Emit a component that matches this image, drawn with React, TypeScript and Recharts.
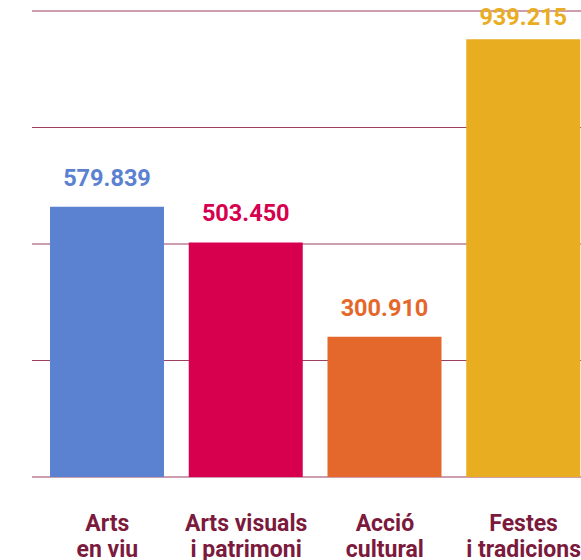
import React from 'react';
import { BarChart, Bar, XAxis, YAxis, CartesianGrid, Cell, LabelList } from 'recharts';

// Pressupost per àmbit (euros)
const categories = [
    ['Arts', 'en viu'],
    ['Arts visuals', 'i patrimoni'],
    ['Acció', 'cultural'],
    ['Festes', 'i tradicions'],
];
const values = [579839, 503450, 300910, 939215];
const colors = ['#5b81d1', '#d7004f', '#e4682c', '#e9ad22'];
const yTicks = [0, 250000, 500000, 750000, 1000000];

const data = categories.map((c, i) => ({ name: c.join(' '), lines: c, value: values[i] }));

const fmt = (v: number) => String(v).replace(/\B(?=(\d{3})+(?!\d))/g, '.');

const FONT = 'Roboto, "Noto Sans", sans-serif';
const LABEL_COLOR = '#7b1a3d';

function CategoryTick({ x, y, payload }: any) {
    const item = data.find((d) => d.name === payload.value);
    const lines = item ? item.lines : [payload.value];
    return (
        <text x={x} y={y} textAnchor="middle" fill={LABEL_COLOR} fontFamily={FONT} fontSize={23} fontWeight={700}>
            {lines.map((l, i) => (
                <tspan key={i} x={x} dy={i === 0 ? 54 : 26}>
                    {l}
                </tspan>
            ))}
        </text>
    );
}

function ValueLabel({ x, y, width, value, index }: any) {
    const ty = Math.max(y - 21, 25);
    return (
        <text
            x={x + width / 2}
            y={ty}
            textAnchor="middle"
            fill={colors[index]}
            fontFamily={FONT}
            fontSize={23.5}
            fontWeight={700}
        >
            {fmt(value)}
        </text>
    );
}

export default function App() {
    return (
        <div style={{ position: 'absolute', left: 0, top: 0, width: 581, height: 560, overflow: 'hidden', background: '#fff' }}>
            <BarChart width={599} height={560} data={data} margin={{ top: 11, right: 0, bottom: 0, left: 32 }}>
                <CartesianGrid vertical={false} stroke="#9c3f63" strokeWidth={1.2} />
                <YAxis hide domain={[0, 1000000]} ticks={yTicks} />
                <XAxis
                    dataKey="name"
                    axisLine={false}
                    tickLine={false}
                    tickSize={0}
                    tickMargin={0}
                    height={83}
                    padding={{ left: 6, right: 6 }}
                    interval={0}
                    tick={<CategoryTick />}
                />
                <Bar dataKey="value" barSize={114} isAnimationActive={false}>
                    {data.map((d, i) => (
                        <Cell key={d.name} fill={colors[i]} />
                    ))}
                    <LabelList dataKey="value" content={<ValueLabel />} />
                </Bar>
            </BarChart>
        </div>
    );
}
